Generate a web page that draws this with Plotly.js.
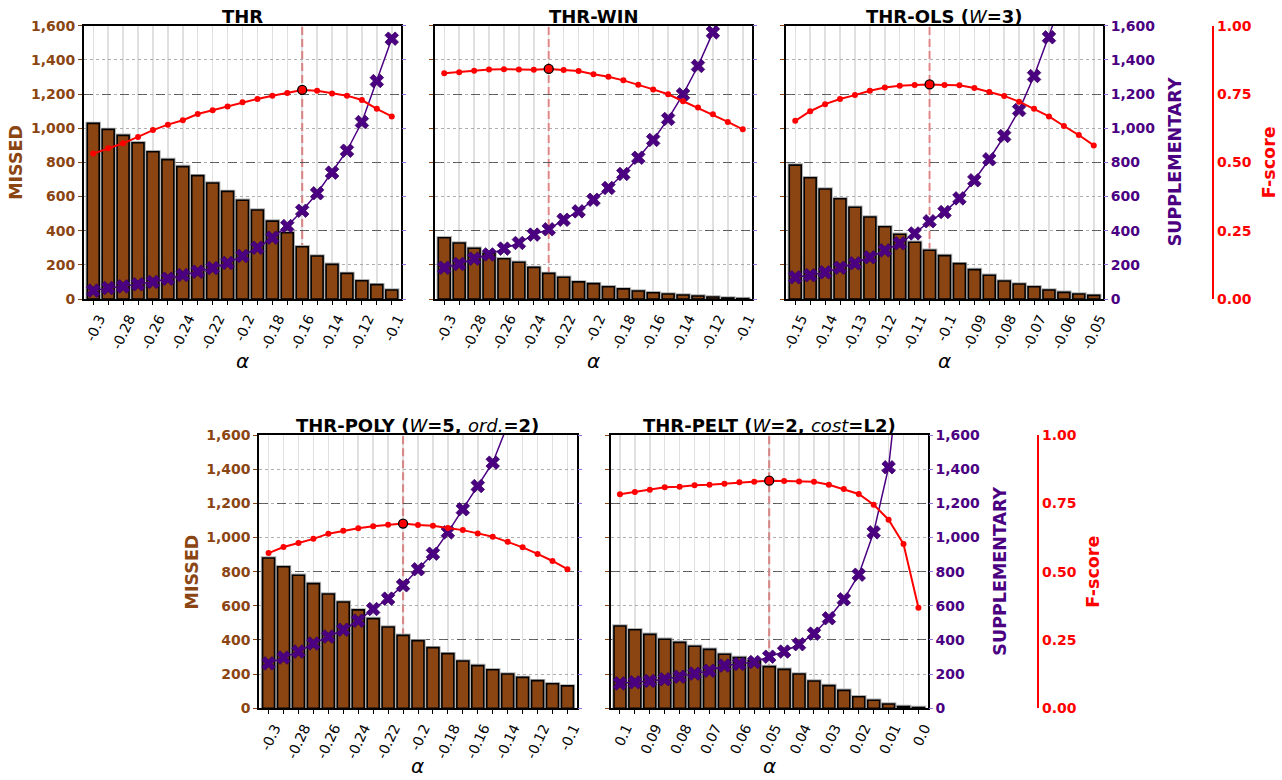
<!DOCTYPE html>
<html><head><meta charset="utf-8">
<script src="https://cdn.plot.ly/plotly-3.0.1.min.js"></script>
<style>html,body{margin:0;padding:0;background:#fff;} #chart{width:1282px;height:780px;}</style>
</head><body><div id="chart"></div>
<script>
// ---- categories (alpha values) ----
const alphaStd = ["-0.3","-0.29","-0.28","-0.27","-0.26","-0.25","-0.24","-0.23","-0.22","-0.21","-0.2","-0.19","-0.18","-0.17","-0.16","-0.15","-0.14","-0.13","-0.12","-0.11","-0.1"];
const alphaOLS = ["-0.15","-0.145","-0.14","-0.135","-0.13","-0.125","-0.12","-0.115","-0.11","-0.105","-0.1","-0.095","-0.09","-0.085","-0.08","-0.075","-0.07","-0.065","-0.06","-0.055","-0.05"];
const alphaPELT = ["0.1","0.095","0.09","0.085","0.08","0.075","0.07","0.065","0.06","0.055","0.05","0.045","0.04","0.035","0.03","0.025","0.02","0.015","0.01","0.005","0.0"];

// ---- tick labels (every second category) ----
const tickStd = ["-0.3","-0.28","-0.26","-0.24","-0.22","-0.2","-0.18","-0.16","-0.14","-0.12","-0.1"];
const tickOLS = ["-0.15","-0.14","-0.13","-0.12","-0.11","-0.1","-0.09","-0.08","-0.07","-0.06","-0.05"];
const tickPELT = ["0.1","0.09","0.08","0.07","0.06","0.05","0.04","0.03","0.02","0.01","0.0"];

// ---- THR ----
const missedTHR = [1028, 993, 958, 915, 862, 816, 775, 722, 679, 630, 578, 521, 456, 388, 306, 252, 203, 150, 107, 84, 53];
const supplTHR  = [49, 64, 74, 86, 100, 119, 140, 160, 181, 211, 252, 300, 359, 427, 517, 619, 740, 868, 1036, 1276, 1524];
const fscoreTHR = [0.532, 0.552, 0.570, 0.593, 0.618, 0.638, 0.654, 0.677, 0.691, 0.704, 0.720, 0.732, 0.744, 0.754, 0.765, 0.762, 0.752, 0.744, 0.728, 0.696, 0.668];

// ---- THR-WIN ----
const missedWIN = [359, 328, 297, 267, 236, 215, 185, 150, 127, 100, 90, 72, 59, 47, 37, 29, 23, 18, 12, 6, 2];
const supplWIN  = [183, 205, 236, 261, 295, 328, 377, 408, 464, 513, 581, 650, 732, 827, 931, 1054, 1198, 1364, 1561, 1800, 2080];
const fscoreWIN = [0.826, 0.830, 0.835, 0.840, 0.841, 0.840, 0.839, 0.842, 0.838, 0.834, 0.822, 0.813, 0.800, 0.784, 0.767, 0.749, 0.724, 0.701, 0.676, 0.648, 0.621];

// ---- THR-OLS ----
const missedOLS = [784, 710, 644, 587, 537, 480, 423, 379, 332, 285, 254, 207, 172, 139, 105, 88, 72, 53, 39, 29, 21];
const supplOLS  = [127, 139, 156, 183, 209, 244, 285, 326, 384, 455, 509, 589, 695, 818, 954, 1106, 1305, 1532, 1780, 2050, 2350];
const fscoreOLS = [0.652, 0.687, 0.713, 0.732, 0.746, 0.762, 0.774, 0.780, 0.783, 0.785, 0.783, 0.782, 0.772, 0.757, 0.743, 0.722, 0.696, 0.668, 0.633, 0.600, 0.562];

// ---- THR-POLY ----
const missedPOLY = [880, 829, 779, 730, 669, 622, 576, 525, 476, 427, 396, 355, 320, 277, 250, 226, 201, 181, 162, 144, 131];
const supplPOLY  = [263, 297, 332, 379, 420, 460, 513, 581, 642, 720, 814, 905, 1030, 1165, 1301, 1438, 1660, 1850, 2060, 2300, 2550];
const fscorePOLY = [0.568, 0.590, 0.605, 0.620, 0.639, 0.650, 0.659, 0.666, 0.672, 0.676, 0.671, 0.668, 0.660, 0.652, 0.640, 0.628, 0.609, 0.589, 0.565, 0.539, 0.509];

// ---- THR-PELT ----
const missedPELT = [482, 460, 433, 404, 386, 363, 345, 316, 297, 279, 244, 228, 201, 160, 133, 105, 68, 47, 25, 10, 4];
const supplPELT  = [146, 152, 160, 170, 185, 203, 220, 250, 260, 271, 302, 332, 375, 437, 527, 638, 782, 1030, 1411, 2270, 3000];
const fscorePELT = [0.783, 0.791, 0.800, 0.809, 0.811, 0.816, 0.818, 0.822, 0.827, 0.829, 0.833, 0.832, 0.830, 0.829, 0.818, 0.802, 0.784, 0.745, 0.690, 0.601, 0.368];

const titles = ["THR", "THR-WIN", "THR-OLS (<span style=\"font-weight:normal\"><i>W</i></span>=3)",
  "THR-POLY (<span style=\"font-weight:normal\"><i>W</i></span>=5, <span style=\"font-weight:normal\"><i>ord.</i></span>=2)",
  "THR-PELT (<span style=\"font-weight:normal\"><i>W</i></span>=2, <span style=\"font-weight:normal\"><i>cost</i></span>=L2)"];

// ---- rendering ----
const W = 1282, H = 780;
const PX = p => p / W, PY = p => 1 - p / H;
const FONT = "DejaVu Sans";
const BROWN = "#8B4513", INDIGO = "#4B0082", RED = "#FF0000";

const panels = [
  {cats: alphaStd, ticks: tickStd, missed: missedTHR, suppl: supplTHR, fscore: fscoreTHR, x0: 84, x1: 401, y0: 25.7, y1: 299, left: true, right: false},
  {cats: alphaStd, ticks: tickStd, missed: missedWIN, suppl: supplWIN, fscore: fscoreWIN, x0: 435, x1: 752, y0: 25.7, y1: 299, left: false, right: false},
  {cats: alphaOLS, ticks: tickOLS, missed: missedOLS, suppl: supplOLS, fscore: fscoreOLS, x0: 786, x1: 1103, y0: 25.7, y1: 299, left: false, right: true, fpos: 1212.7, supX: 1175, fX: 1269},
  {cats: alphaStd, ticks: tickStd, missed: missedPOLY, suppl: supplPOLY, fscore: fscorePOLY, x0: 259.3, x1: 576.7, y0: 435, y1: 708.3, left: true, right: false},
  {cats: alphaPELT, ticks: tickPELT, missed: missedPELT, suppl: supplPELT, fscore: fscorePELT, x0: 610.7, x1: 927.7, y0: 435, y1: 708.3, left: false, right: true, fpos: 1037.7, supX: 1000, fX: 1093}
];

const data = [];
const layout = {
  width: W, height: H, margin: {l: 0, r: 0, t: 0, b: 0},
  paper_bgcolor: "#fff", plot_bgcolor: "rgba(0,0,0,0)",
  showlegend: false, barmode: "overlay",
  font: {family: FONT, color: "#000"},
  shapes: [], annotations: []
};
const sfx = n => n === 1 ? "" : String(n);

panels.forEach((p, i) => {
  const xn = i + 1, yl = 3 * i + 1, yr = 3 * i + 2, yf = 3 * i + 3;
  const xa = "x" + sfx(xn), yla = "y" + sfx(yl), yra = "y" + sfx(yr), yfa = "y" + sfx(yf);
  const xdom = [PX(p.x0), PX(p.x1)], ydom = [PY(p.y1), PY(p.y0)];
  const ticktext = p.cats.map((c, k) => k % 2 === 0 ? p.ticks[k / 2] : "");
  let best = 0;
  p.fscore.forEach((v, k) => { if (v > p.fscore[best]) best = k; });

  layout["xaxis" + sfx(xn)] = {
    domain: xdom, anchor: yla, type: "category", categoryorder: "array", categoryarray: p.cats,
    range: [-0.62, p.cats.length - 1 + 0.62], tickmode: "array", tickvals: p.cats, ticktext: ticktext,
    tickangle: -65, ticklabelshift: 6, tickfont: {size: 14, family: FONT, color: "#000"},
    ticks: "outside", ticklen: 4, tickwidth: 1, tickcolor: "#000",
    showline: true, mirror: true, linecolor: "#000", linewidth: 2,
    showgrid: true, gridcolor: "rgba(0,0,0,0.12)", gridwidth: 1.5, zeroline: false, fixedrange: true
  };
  layout["yaxis" + sfx(yl)] = {
    domain: ydom, anchor: xa, range: [0, 1600], tickmode: "linear", tick0: 0, dtick: 200,
    tickformat: ",d", showticklabels: p.left,
    tickfont: {size: 14, family: FONT, color: BROWN, weight: "bold"},
    ticks: "outside", ticklen: 4, tickcolor: BROWN,
    showline: true, mirror: true, linecolor: "#000", linewidth: 2,
    showgrid: true, gridcolor: "#9a9a9a", griddash: "dot", gridwidth: 0.8, zeroline: false, fixedrange: true
  };
  layout["yaxis" + sfx(yr)] = {
    overlaying: yla, anchor: xa, side: "right", range: [0, 1600], tickmode: "linear", tick0: 0, dtick: 200,
    tickformat: ",d", showticklabels: p.right,
    tickfont: {size: 14, family: FONT, color: INDIGO, weight: "bold"},
    ticks: "outside", ticklen: 4, tickcolor: "#9370DB",
    showline: false, showgrid: false, zeroline: false, fixedrange: true
  };
  const fa = {
    overlaying: yla, side: "right", range: [0, 1], tickmode: "linear", tick0: 0, dtick: 0.25,
    tickformat: ".2f", showticklabels: p.right,
    tickfont: {size: 14, family: FONT, color: RED, weight: "bold"},
    ticks: "", showgrid: true, gridcolor: "#444", griddash: "dash", gridwidth: 0.8, zeroline: false, fixedrange: true
  };
  if (p.right) {
    fa.anchor = "free"; fa.position = PX(p.fpos);
    fa.showline = true; fa.linecolor = RED; fa.linewidth = 2.5;
  } else {
    fa.anchor = xa; fa.showline = false;
  }
  layout["yaxis" + sfx(yf)] = fa;

  // bars: grey halo then brown bars
  data.push({type: "bar", x: p.cats, y: p.missed, xaxis: xa, yaxis: yla, width: 0.8,
    marker: {color: "#9a9a9a", line: {color: "#b0b0b0", width: 3.5}}, hoverinfo: "skip"});
  data.push({type: "bar", x: p.cats, y: p.missed, xaxis: xa, yaxis: yla, width: 0.8,
    marker: {color: BROWN, line: {color: "#000", width: 1.6}}});
  // supplementary
  data.push({type: "scatter", mode: "lines+markers", x: p.cats, y: p.suppl, xaxis: xa, yaxis: yra,
    line: {color: INDIGO, width: 1.5},
    marker: {symbol: "x", size: 12, color: INDIGO, line: {color: "#3a0066", width: 0.8}}});
  // fscore
  data.push({type: "scatter", mode: "lines+markers", x: p.cats, y: p.fscore, xaxis: xa, yaxis: yfa,
    line: {color: RED, width: 2}, marker: {symbol: "circle", size: 6, color: RED}});
  data.push({type: "scatter", mode: "markers", x: [p.cats[best]], y: [p.fscore[best]], xaxis: xa, yaxis: yfa,
    marker: {symbol: "circle", size: 9, color: RED, line: {color: "#000", width: 1.3}}});

  // vertical dashed line at the best F-score (category index of the maximum), behind the bars
  layout.shapes.push({type: "line", xref: xa, yref: "paper", x0: best, x1: best,
    y0: ydom[0], y1: ydom[1],
    line: {color: "rgba(244,150,150,0.95)", width: 2.2, dash: "8px,4px"}, layer: "below"});

  const cx = PX((p.x0 + p.x1) / 2);
  layout.annotations.push({text: titles[i], x: cx, y: PY(p.y0 - 9), xref: "paper", yref: "paper",
    xanchor: "center", yanchor: "middle", showarrow: false,
    font: {size: 18, family: FONT, color: "#000", weight: "bold"}});
  if (i < 3) {
    layout.annotations.push({text: "<i>α</i>", x: cx, y: PY(p.y1 + 62), xref: "paper", yref: "paper",
      xanchor: "center", yanchor: "middle", showarrow: false, font: {size: 20, family: FONT, color: "#000"}});
  } else {
    layout.annotations.push({text: "<i>α</i>", x: cx, y: 0, xref: "paper", yref: "paper",
      xanchor: "center", yanchor: "bottom", showarrow: false, font: {size: 20, family: FONT, color: "#000"}});
  }
  const cy = PY((p.y0 + p.y1) / 2);
  if (p.left) {
    layout.annotations.push({text: "MISSED", x: PX(p.x0 - 67.5), y: cy, xref: "paper", yref: "paper",
      xanchor: "center", yanchor: "middle", textangle: -90, showarrow: false,
      font: {size: 17.5, family: FONT, color: BROWN, weight: "bold"}});
  }
  if (p.right) {
    layout.annotations.push({text: "SUPPLEMENTARY", x: PX(p.supX), y: cy, xref: "paper", yref: "paper",
      xanchor: "center", yanchor: "middle", textangle: -90, showarrow: false,
      font: {size: 17.5, family: FONT, color: INDIGO, weight: "bold"}});
    layout.annotations.push({text: "F-score", x: PX(p.fX), y: cy, xref: "paper", yref: "paper",
      xanchor: "center", yanchor: "middle", textangle: -90, showarrow: false,
      font: {size: 17.5, family: FONT, color: RED, weight: "bold"}});
  }
});

Plotly.newPlot("chart", data, layout, {staticPlot: true, displayModeBar: false});
</script></body></html>
